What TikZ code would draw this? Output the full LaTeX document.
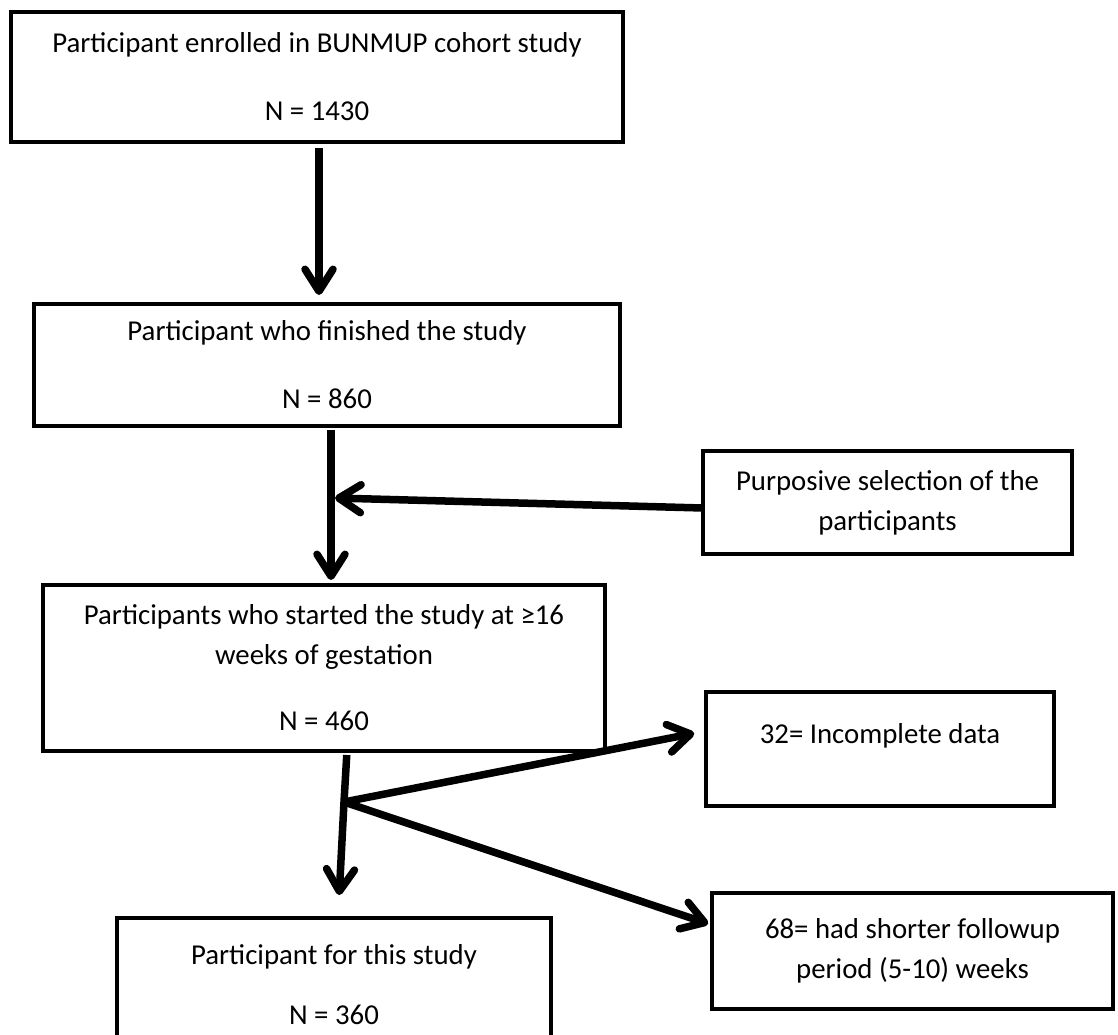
\documentclass[tikz,border=0pt]{standalone}
\usepackage{fontspec}
\setmainfont{Carlito}
\usetikzlibrary{arrows.meta}

\begin{document}
\begin{tikzpicture}[x=0.5pt, y=-0.5pt, font=\fontsize{14.4pt}{20pt}\selectfont,
    >={Straight Barb[length=11pt, width=14pt, round]},
    studybox/.style={draw, line width=2.25pt, inner sep=0pt, outer sep=0pt, align=center},
    flowarrow/.style={->, line width=3.75pt, line join=round}]
            \path[use as bounding box, fill=white] (0,0) rectangle (1118,1034);

            % Main flow
            \node[studybox, minimum width=306pt, minimum height=65pt] (enrolled) at (317,77) {Participant enrolled in BUNMUP cohort study\\[14pt]N = 1430};
            \node[studybox, minimum width=293pt, minimum height=61pt] (finished) at (327,365) {Participant who finished the study\\[14pt]N = 860};
            \node[studybox, minimum width=281pt, minimum height=83pt] (started) at (324,668) {Participants who started the study at ≥16\\weeks of gestation\\[13pt]N = 460};
            \node[studybox, minimum width=217pt, minimum height=67pt] (final) at (334,985) {Participant for this study\\[10pt]N = 360};

            % Side boxes
            \node[studybox, minimum width=184.5pt, minimum height=51.5pt] (purposive) at (887.5,502.5) {Purposive selection of the\\participants};
            \node[studybox, minimum width=174pt, minimum height=57pt, text height=12pt, text depth=18pt] (incomplete) at (880,749) {32= Incomplete data};
            \node[studybox, minimum width=200.5pt, minimum height=58pt] (shorter) at (912.5,951) {68= had shorter followup\\period (5-10) weeks};

            % Junctions
            \coordinate (join) at (335,498);
            \coordinate (split) at (344,802);

            % Connections
            \draw[flowarrow, shorten <=3pt, shorten >=4.5pt] ([xshift=1pt]enrolled.south) -- ([xshift=-4pt]finished.north);
            \draw[flowarrow, shorten <=2pt, shorten >=2.5pt] ([xshift=2pt]finished.south) -- ([xshift=3.5pt]started.north);
            \draw[flowarrow] ([yshift=-2.75pt]purposive.west) -- (join);
            \draw[flowarrow, shorten <=2pt, shorten >=11.5pt] ([xshift=11.5pt]started.south) -- (split) -- ([xshift=2pt]final.north);
            \draw[flowarrow, shorten >=6pt] (split) -- ([yshift=9pt]incomplete.west);
            \draw[flowarrow, shorten >=2pt] (split) -- ([yshift=13pt]shorter.west);
        \end{tikzpicture}
\end{document}
